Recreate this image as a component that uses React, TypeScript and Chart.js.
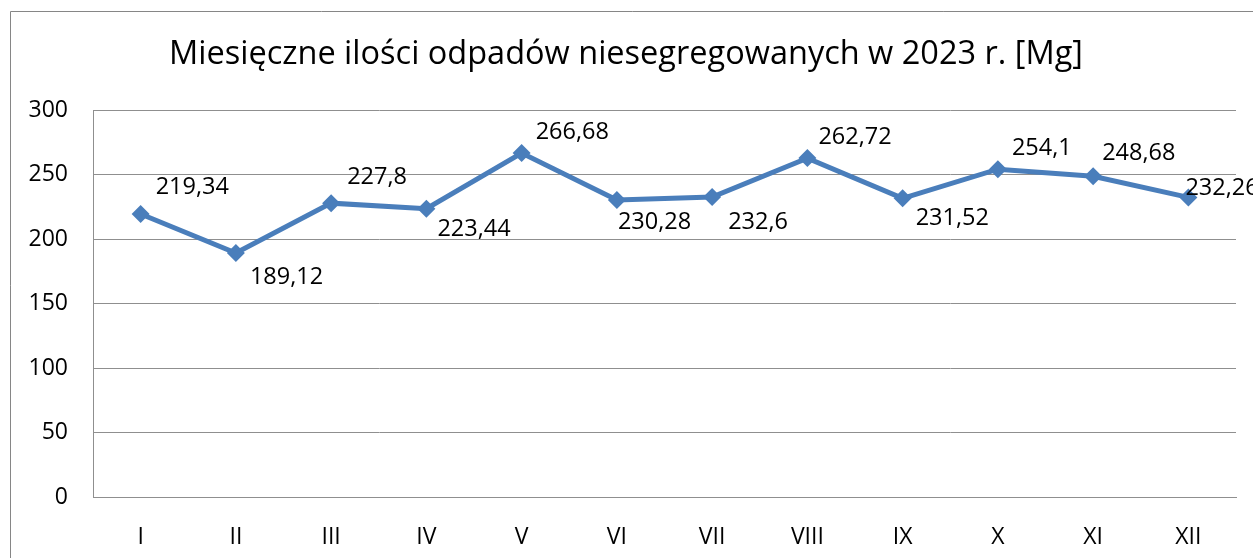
import React, { useEffect, useRef } from "react";
import { Chart, registerables } from "chart.js";

Chart.register(...registerables);

const TITLE = "Miesięczne ilości odpadów niesegregowanych w 2023 r. [Mg]";
const MONTHS = ["I", "II", "III", "IV", "V", "VI", "VII", "VIII", "IX", "X", "XI", "XII"];
const WASTE_MG = [219.34, 189.12, 227.8, 223.44, 266.68, 230.28, 232.6, 262.72, 231.52, 254.1, 248.68, 232.26];
const Y_MIN = 0;
const Y_MAX = 300;
const Y_STEP = 50;

// label placement (style config): offset of label's left/center from the point
const LABEL_DX = [15, 14, 16, 11, 14, 1, 16, 11, 13, 14, 9, -3];
const LABEL_DY = [-27, 24, -26, 21, -21, 22, 25, -21, 20, -21, -23, -9];

const FONT = "'Open Sans', 'Noto Sans', sans-serif";
const LINE_COLOR = "#4a7ebb";
const GRID_COLOR = "#8f8f8f";

const fmt = (v: number) => String(v).replace(".", ",");

const frameAndLabels = {
  id: "frameAndLabels",
  beforeDraw(chart: any) {
    const ctx = chart.ctx;
    ctx.save();
    ctx.strokeStyle = "#868686";
    ctx.lineWidth = 1;
    ctx.beginPath();
    ctx.moveTo(10.5, chart.height + 5);
    ctx.lineTo(10.5, 11.5);
    ctx.lineTo(chart.width + 5, 11.5);
    ctx.stroke();
    ctx.restore();
  },
  afterDatasetsDraw(chart: any) {
    const ctx = chart.ctx;
    const meta = chart.getDatasetMeta(0);
    ctx.save();
    ctx.font = `23.5px ${FONT}`;
    ctx.fillStyle = "#000";
    ctx.textAlign = "left";
    ctx.textBaseline = "middle";
    meta.data.forEach((pt: any, i: number) => {
      ctx.fillText(fmt(WASTE_MG[i]), pt.x + LABEL_DX[i], pt.y + LABEL_DY[i]);
    });
    ctx.restore();
  },
};

export default function App() {
  const ref = useRef<HTMLCanvasElement>(null);
  useEffect(() => {
    if (!ref.current) return;
    const chart = new Chart(ref.current, {
      type: "line",
      data: {
        labels: MONTHS,
        datasets: [
          {
            data: WASTE_MG,
            borderColor: LINE_COLOR,
            backgroundColor: LINE_COLOR,
            borderWidth: 5,
            pointStyle: "rectRot",
            pointRadius: 9,
            pointBorderWidth: 0,
            tension: 0,
          },
        ],
      },
      options: {
        animation: false,
        responsive: false,
        layout: { padding: { left: 16, right: 17, top: 0, bottom: 0 } },
        plugins: {
          legend: { display: false },
          tooltip: { enabled: false },
          title: {
            display: true,
            text: TITLE,
            color: "#000",
            font: { family: FONT, size: 32.5, weight: "normal" },
            padding: { top: 35.5, bottom: 35.5 },
          },
        },
        scales: {
          x: {
            offset: true,
            grid: { display: false },
            border: { display: true, color: GRID_COLOR, width: 1 },
            ticks: { color: "#000", font: { family: FONT, size: 23 }, padding: 19 },
            afterFit: (s: any) => {
              s.height = 61;
            },
          },
          y: {
            min: Y_MIN,
            max: Y_MAX,
            ticks: {
              stepSize: Y_STEP,
              color: "#000",
              font: { family: FONT, size: 23 },
              padding: 25,
            },
            grid: { color: GRID_COLOR, drawTicks: false, lineWidth: 1 },
            border: { display: true, color: GRID_COLOR, width: 1 },
            afterFit: (s: any) => {
              s.width = 77;
            },
          },
        },
      },
      plugins: [frameAndLabels],
    });
    return () => chart.destroy();
  }, []);
  return (
    <div style={{ position: "fixed", left: 0, top: 0, width: 1253, height: 558, background: "#fff" }}>
      <canvas ref={ref} width={1253} height={558} />
    </div>
  );
}
